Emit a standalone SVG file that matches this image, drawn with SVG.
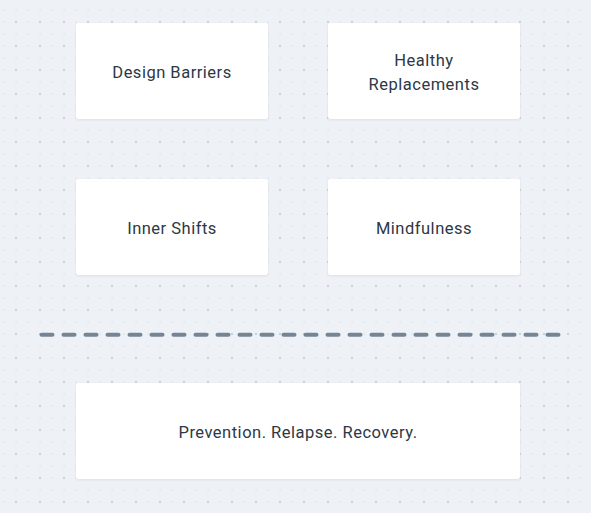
<svg xmlns="http://www.w3.org/2000/svg" width="591" height="513" viewBox="0 0 591 513">
  <defs>
    <pattern id="dots" x="0" y="0" width="24" height="24" patternUnits="userSpaceOnUse">
      <rect x="3.5" y="9.5" width="1.2" height="1.2" fill="#d3dae2"/>
      <rect x="15.5" y="9.5" width="1.2" height="1.2" fill="#d3dae2"/>
      <rect x="3.5" y="21.5" width="1.2" height="1.2" fill="#d3dae2"/>
      <rect x="15" y="21" width="2" height="2" fill="#c9d1da"/>
    </pattern>
    <filter id="sh" x="-10%" y="-10%" width="120%" height="130%">
      <feDropShadow dx="0" dy="1" stdDeviation="1.2" flood-color="#1e293b" flood-opacity="0.08"/>
    </filter>
  </defs>
  <style>
    .box { fill: #ffffff; filter: url(#sh); }
    .lbl { font-family: Roboto, "Liberation Sans", sans-serif; font-size: 16.5px; fill: #2c3846; text-anchor: middle; letter-spacing: 0.5px; }
  </style>
  <rect width="591" height="513" fill="#eef2f6"/>
  <rect width="591" height="513" fill="url(#dots)"/>
  <g id="connectors">
    <line x1="41.5" y1="334.7" x2="560" y2="334.7" stroke="#768595" stroke-width="4" stroke-linecap="round" stroke-dasharray="11 11"/>
  </g>
  <g id="node-design-barriers">
    <rect class="box" x="76" y="23" width="192" height="96" rx="2"/>
    <text class="lbl" x="172" y="78">Design Barriers</text>
  </g>
  <g id="node-healthy-replacements">
    <rect class="box" x="328" y="23" width="192" height="96" rx="2"/>
    <text class="lbl" x="424" y="66">Healthy</text>
    <text class="lbl" x="424" y="90">Replacements</text>
  </g>
  <g id="node-inner-shifts">
    <rect class="box" x="76" y="179" width="192" height="96" rx="2"/>
    <text class="lbl" x="172" y="234">Inner Shifts</text>
  </g>
  <g id="node-mindfulness">
    <rect class="box" x="328" y="179" width="192" height="96" rx="2"/>
    <text class="lbl" x="424" y="234">Mindfulness</text>
  </g>
  <g id="node-prevention">
    <rect class="box" x="76" y="383" width="444" height="96" rx="2"/>
    <text class="lbl" x="298" y="438">Prevention. Relapse. Recovery.</text>
  </g>
</svg>
